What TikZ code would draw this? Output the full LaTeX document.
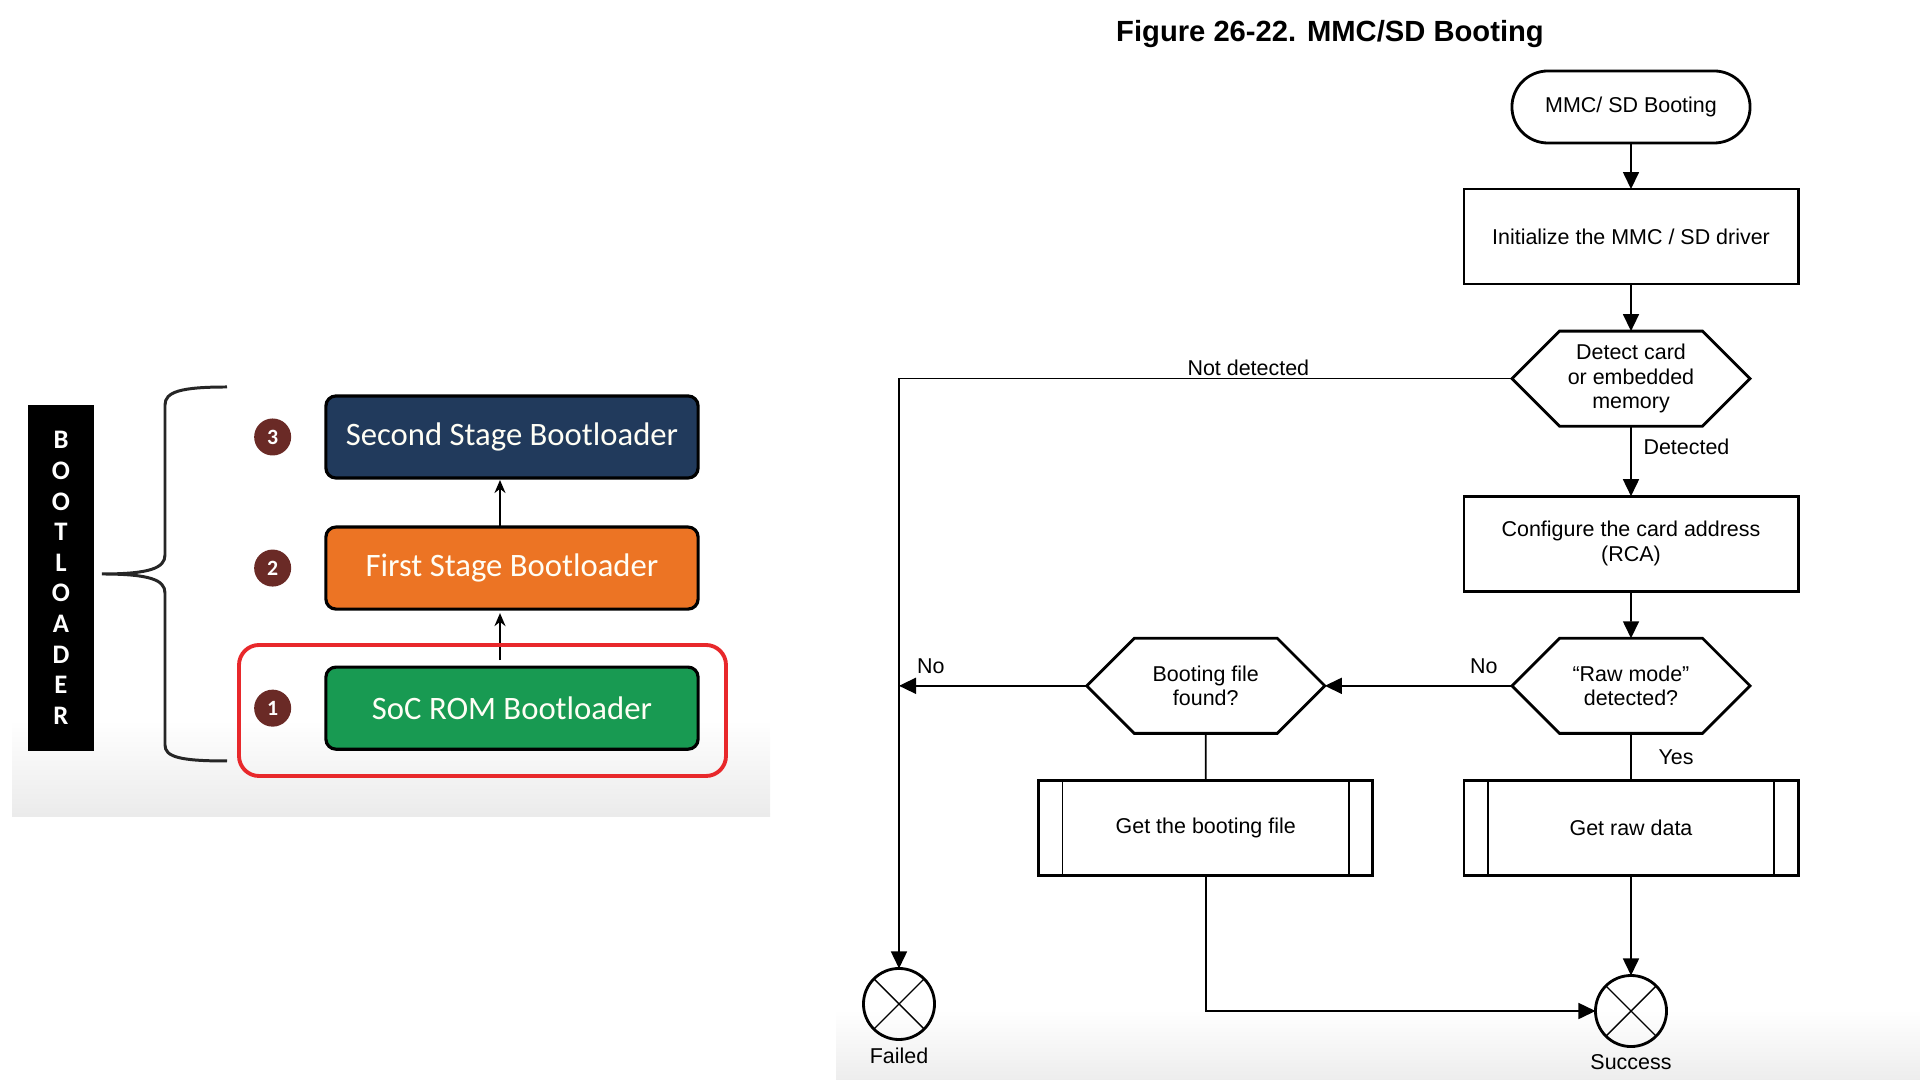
\documentclass[tikz,border=0pt]{standalone}
\usepackage{fontspec}
\setmainfont{Liberation Sans}
\newfontfamily\slidefont{Carlito}
\usepackage{tikz}
\usetikzlibrary{positioning}
\usetikzlibrary{shapes.geometric}
\usetikzlibrary{shapes.symbols}
\usetikzlibrary{arrows.meta}
\usetikzlibrary{calc}
\usepackage{xcolor}

\definecolor{stagenavy}{HTML}{213A5C}
\definecolor{stageorange}{HTML}{EC7424}
\definecolor{stagegreen}{HTML}{189A52}
\definecolor{stagemaroon}{HTML}{6A2A26}
\definecolor{framered}{HTML}{E8282B}

\begin{document}
\begin{tikzpicture}[
  x=0.01cm, y=-0.01cm,
  font=\fontsize{6.1}{7}\selectfont,
  stage/.style={draw=black, line width=0.9pt, outer sep=0pt, rounded corners=0.1cm, minimum width=3.72cm, minimum height=0.82cm, text=white!96!yellow, font=\slidefont\fontsize{9.3}{11}\selectfont},
  stagenum/.style={circle, fill=stagemaroon, text=white, minimum size=0.37cm, inner sep=0pt, font=\slidefont\bfseries\fontsize{6.2}{7}\selectfont},
  stagearrow/.style={-{Stealth[length=0.13cm, width=0.11cm]}, line width=0.85pt},
  term/.style={draw, line width=0.8pt, outer sep=0pt, rounded corners=0.36cm, minimum width=2.38cm, minimum height=0.72cm},
  box/.style={draw, line width=0.8pt, outer sep=0pt, minimum width=3.34cm, minimum height=0.95cm, align=center},
  gate/.style={draw, line width=0.8pt, outer sep=0pt, signal, signal to=west and east, signal pointer angle=90, minimum width=2.38cm, minimum height=0.95cm, align=center, inner sep=0pt},
  subproc/.style={box, path picture={
      \draw[line width=0.4pt] ([xshift=0.24cm]path picture bounding box.north west) -- ([xshift=0.24cm]path picture bounding box.south west);
      \draw[line width=0.4pt] ([xshift=-0.24cm]path picture bounding box.north east) -- ([xshift=-0.24cm]path picture bounding box.south east);}},
  endpoint/.style={draw, circle, line width=0.8pt, outer sep=0pt, minimum size=0.71cm, inner sep=0pt, path picture={
      \draw[line width=0.4pt] (path picture bounding box.north west) -- (path picture bounding box.south east);
      \draw[line width=0.4pt] (path picture bounding box.north east) -- (path picture bounding box.south west);}},
  arrow/.style={-{Triangle[length=0.17cm, width=0.16cm]}, line width=0.45pt},
  plainline/.style={line width=0.45pt}
]
\useasboundingbox (0,0) rectangle (1920,1080);

% backgrounds
\shade[top color=white, bottom color=black!8] (12,720) rectangle (770,817);
\shade[top color=white, bottom color=black!7] (836,1010) rectangle (1920,1080);

% left: boot stages
\node[fill=black, minimum width=0.66cm, minimum height=3.45cm, align=center, text=white,
      font=\slidefont\bfseries\fontsize{7.6}{8.7}\selectfont] (bar) at (61,578) {B\\O\\O\\T\\L\\O\\A\\D\\E\\R};

\node[stage, fill=stagenavy] (second) at (512,437) {Second Stage Bootloader};
\node[stage, fill=stageorange, below=0.49cm of second] (first) {First Stage Bootloader};
\node[stage, fill=stagegreen, below=0.58cm of first] (soc) {SoC ROM Bootloader};

\node[stagenum, left=0.34cm of second] (num3) {3};
\node[stagenum, left=0.34cm of first] (num2) {2};
\node[stagenum, left=0.34cm of soc] (num1) {1};

\draw[stagearrow, shorten >=0.02cm] ([xshift=-0.12cm]first.north) -- ([xshift=-0.12cm]second.south);
\draw[stagearrow, shorten <=0.07cm, shorten >=0.04cm] ([xshift=-0.12cm]soc.north) -- ([xshift=-0.12cm]first.south);

\draw[framered, line width=1.1pt, rounded corners=0.2cm] (239,645) rectangle (726,776);

\draw[black!85, line width=0.85pt] (227,387) .. controls (180,387) and (165,392) .. (165,405) -- (165,555)
  .. controls (165,568) and (150,574) .. (102,574) .. controls (150,574) and (165,580) .. (165,593)
  -- (165,745) .. controls (165,757) and (180,761) .. (227,761);

% right: MMC/SD flow
\node[font=\bfseries\fontsize{8.3}{10}\selectfont] (title) at (1330,34) {Figure 26-22. MMC/SD Booting};

\node[term] (start) at (1631,107) {MMC/ SD Booting};
\node[box, below=0.46cm of start] (init) {Initialize the MMC / SD driver};
\node[gate, below=0.47cm of init] (detect) {Detect card\\or embedded\\memory};
\node[box, below=0.70cm of detect] (config) {Configure the card address\\(RCA)};
\node[gate, below=0.47cm of config] (rawmode) {“Raw mode”\\detected?};
\node[subproc, below=0.47cm of rawmode] (rawdata) {Get raw data};
\node[endpoint, below=1.0cm of rawdata] (success) {};
\node[below=0.04cm of success, inner sep=1pt] (successlbl) {Success};

\node[gate, left=1.87cm of rawmode] (bootfile) {Booting file\\found?};
\node[subproc, below=0.47cm of bootfile] (getfile) {Get the booting file};

\node[endpoint] (failed) at (899,1004) {};
\node[below=0.04cm of failed, inner sep=1pt] (failedlbl) {Failed};

\draw[arrow] (start) -- (init);
\draw[arrow] (init) -- (detect);
\draw[arrow] (detect) -- node[right, pos=0.3] {Detected} (config);
\draw[arrow] (detect.west) -- node[above, pos=0.43, inner sep=0.5pt] {Not detected} (detect.west -| failed) -- (failed);
\draw[arrow] (config) -- (rawmode);
\draw[arrow] (rawmode.west) -- node[above, pos=0.15] {No} (bootfile.east);
\draw[arrow] (bootfile.west) -- node[above, pos=0.83] {No} (bootfile.west -| failed);
\draw[plainline] (bootfile) -- (getfile);
\draw[plainline] (rawmode) -- node[right, xshift=0.15cm] {Yes} (rawdata);
\draw[arrow] (rawdata) -- (success);
\draw[arrow] (getfile.south) |- (success.west);

\end{tikzpicture}
\end{document}
